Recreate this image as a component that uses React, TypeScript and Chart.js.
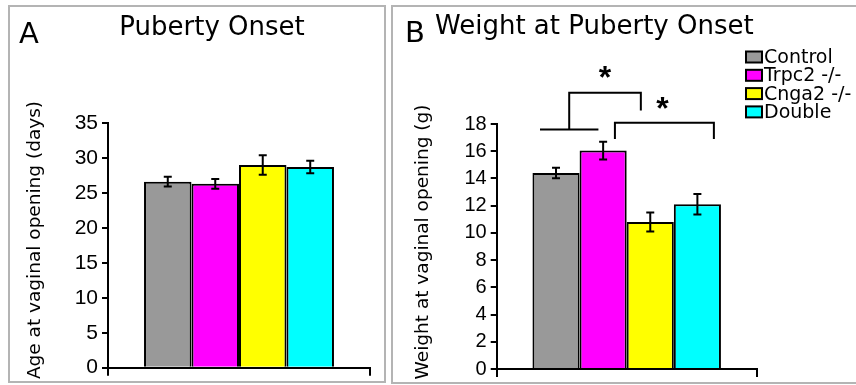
import React, { useEffect, useRef } from 'react';
import { Chart, registerables } from 'chart.js';

Chart.register(...registerables);

// ---- data ----
const groups = ['Control', 'Trpc2 -/-', 'Cnga2 -/-', 'Double'];
const groupColors = ['#999999', '#ff00ff', '#ffff00', '#00ffff'];

const ageMeans = [26.6, 26.3, 29.0, 28.7];
const ageErrors = [0.7, 0.7, 1.4, 0.9];
const ageTickStep = 5;
const ageMax = 35;

const weightMeans = [14.4, 16.05, 10.8, 12.1];
const weightErrors = [0.38, 0.65, 0.7, 0.75];
const weightTickStep = 2;
const weightMax = 18;

// significance brackets for panel B (y values in grams)
const bracketLowY = [17.6, 18.1];
const bracketTopY = [20.3, 18.1];
const bracketDropY = [19.0, 16.9];
const starY = [21.8, 19.55];

const TXT = '#000000';
const SANS_WIDE = '"DejaVu Sans", sans-serif';
const SANS = '"Liberation Sans", Arial, sans-serif';

function errorBarPlugin(errors: number[]) {
  return {
    id: 'errorBars',
    afterDatasetsDraw(chart: any) {
      const { ctx } = chart;
      const y = chart.scales.y;
      ctx.save();
      ctx.strokeStyle = '#000';
      ctx.lineWidth = 2;
      chart.data.datasets.forEach((ds: any, i: number) => {
        const bar = chart.getDatasetMeta(i).data[0];
        const v = ds.data[0];
        const top = y.getPixelForValue(v + errors[i]);
        const bot = y.getPixelForValue(v - errors[i]);
        ctx.beginPath();
        ctx.moveTo(bar.x, top);
        ctx.lineTo(bar.x, bot);
        ctx.moveTo(bar.x - 4, top);
        ctx.lineTo(bar.x + 4, top);
        ctx.moveTo(bar.x - 4, bot);
        ctx.lineTo(bar.x + 4, bot);
        ctx.stroke();
      });
      ctx.restore();
    },
  };
}

function drawStar(ctx: CanvasRenderingContext2D, x: number, cy: number) {
  ctx.font = `bold 32px ${SANS}`;
  ctx.textAlign = 'center';
  ctx.textBaseline = 'alphabetic';
  const m = ctx.measureText('*');
  const base = cy + (m.actualBoundingBoxAscent - m.actualBoundingBoxDescent) / 2;
  ctx.fillText('*', x, base);
}

function drawYTitle(ctx: CanvasRenderingContext2D, text: string, cx: number, cy: number) {
  ctx.save();
  ctx.translate(cx, cy);
  ctx.rotate(-Math.PI / 2);
  ctx.font = `18.5px ${SANS_WIDE}`;
  ctx.fillStyle = TXT;
  ctx.textAlign = 'center';
  ctx.textBaseline = 'middle';
  ctx.fillText(text, 0, 0);
  ctx.restore();
}

function panelAPlugin() {
  return {
    id: 'panelA',
    afterDraw(chart: any) {
      const { ctx } = chart;
      ctx.save();
      ctx.fillStyle = TXT;
      ctx.textBaseline = 'alphabetic';
      ctx.textAlign = 'left';
      ctx.font = `29px ${SANS_WIDE}`;
      ctx.fillText('A', 19, 43);
      ctx.textAlign = 'center';
      ctx.font = `26px ${SANS_WIDE}`;
      ctx.fillText('Puberty Onset', 212, 35);
      drawYTitle(ctx, 'Age at vaginal opening (days)', 35, 240);
      ctx.restore();
    },
  };
}

function panelBPlugin() {
  return {
    id: 'panelB',
    afterDraw(chart: any) {
      const { ctx } = chart;
      const y = chart.scales.y;
      const bars = [0, 1, 2, 3].map((i) => chart.getDatasetMeta(i).data[0]);
      const w = bars[0].width;
      ctx.save();
      ctx.fillStyle = TXT;
      ctx.textBaseline = 'alphabetic';
      ctx.textAlign = 'left';
      ctx.font = `29px ${SANS_WIDE}`;
      ctx.fillText('B', 15, 42);
      ctx.font = `26px ${SANS_WIDE}`;
      ctx.fillText('Weight at Puberty Onset', 45, 34);
      drawYTitle(ctx, 'Weight at vaginal opening (g)', 33, 242);

      // legend
      ctx.font = `19px ${SANS_WIDE}`;
      ctx.textBaseline = 'middle';
      ctx.textAlign = 'left';
      groups.forEach((g, i) => {
        const cy = 57 + i * 18.3;
        ctx.fillStyle = groupColors[i];
        ctx.fillRect(356, cy - 5.5, 16, 11);
        ctx.strokeStyle = '#000';
        ctx.lineWidth = 2;
        ctx.strokeRect(356, cy - 5.5, 16, 11);
        ctx.fillStyle = TXT;
        ctx.fillText(g, 374, cy + 1);
      });

      // brackets
      ctx.strokeStyle = '#000';
      ctx.lineWidth = 2;
      // bracket 1: Control+Trpc2 vs Cnga2
      const l0 = bars[0].x - 0.34 * w;
      const l1 = bars[1].x - 0.1 * w;
      const mid = (l0 + l1) / 2;
      const r1 = bars[2].x - 0.2 * w;
      ctx.beginPath();
      ctx.moveTo(l0, y.getPixelForValue(bracketLowY[0]));
      ctx.lineTo(l1, y.getPixelForValue(bracketLowY[0]));
      ctx.moveTo(mid, y.getPixelForValue(bracketLowY[0]));
      ctx.lineTo(mid, y.getPixelForValue(bracketTopY[0]));
      ctx.lineTo(r1, y.getPixelForValue(bracketTopY[0]));
      ctx.lineTo(r1, y.getPixelForValue(bracketDropY[0]));
      ctx.stroke();
      // bracket 2: Trpc2 vs Double
      const a = bars[1].x + 0.25 * w;
      const b = bars[3].x + 0.35 * w;
      ctx.beginPath();
      ctx.moveTo(a, y.getPixelForValue(bracketDropY[1]));
      ctx.lineTo(a, y.getPixelForValue(bracketTopY[1]));
      ctx.lineTo(b, y.getPixelForValue(bracketTopY[1]));
      ctx.lineTo(b, y.getPixelForValue(bracketDropY[1]));
      ctx.stroke();

      ctx.fillStyle = TXT;
      drawStar(ctx, (mid + r1) / 2, y.getPixelForValue(starY[0]));
      drawStar(ctx, (a + b) / 2 - 2, y.getPixelForValue(starY[1]));
      ctx.restore();
    },
  };
}

function makeConfig(
  means: number[],
  errors: number[],
  max: number,
  step: number,
  padding: any,
  yWidth: number,
  tickSize: number,
  extra: any
) {
  return {
    type: 'bar',
    data: {
      labels: [''],
      datasets: groups.map((g, i) => ({
        label: g,
        data: [means[i]],
        backgroundColor: groupColors[i],
        borderColor: '#000',
        borderWidth: 2,
        borderSkipped: 'start',
        categoryPercentage: 0.725,
        barPercentage: 1,
      })),
    },
    options: {
      animation: false,
      responsive: false,
      maintainAspectRatio: false,
      devicePixelRatio: 1,
      layout: { padding },
      plugins: {
        legend: { display: false },
        title: { display: false },
        tooltip: { enabled: false },
      },
      scales: {
        x: {
          type: 'category',
          grid: {
            offset: true,
            drawOnChartArea: false,
            tickLength: 8,
            color: '#000',
            lineWidth: 2,
          },
          border: { color: '#000', width: 2 },
          ticks: { display: false },
          afterFit: (s: any) => {
            s.height = 8;
          },
        },
        y: {
          min: 0,
          max,
          ticks: {
            stepSize: step,
            color: TXT,
            padding: 4,
            font: { family: SANS, size: tickSize },
          },
          grid: {
            drawOnChartArea: false,
            tickLength: 6,
            color: '#000',
            lineWidth: 2,
          },
          border: { color: '#000', width: 2 },
          title: { display: false },
          afterFit: (s: any) => {
            s.width = yWidth;
          },
        },
      },
    },
    plugins: [errorBarPlugin(errors), extra],
  } as any;
}

export default function App() {
  const refA = useRef<HTMLCanvasElement>(null);
  const refB = useRef<HTMLCanvasElement>(null);

  useEffect(() => {
    const chartA = new Chart(
      refA.current!,
      makeConfig(
        ageMeans,
        ageErrors,
        ageMax,
        ageTickStep,
        { left: 20, right: 20, top: 123, bottom: 9.3 },
        88,
        21,
        panelAPlugin()
      )
    );
    const chartB = new Chart(
      refB.current!,
      makeConfig(
        weightMeans,
        weightErrors,
        weightMax,
        weightTickStep,
        { left: 18, right: 99.3, top: 124, bottom: 6 },
        88.7,
        20,
        panelBPlugin()
      )
    );
    return () => {
      chartA.destroy();
      chartB.destroy();
    };
  }, []);

  return (
    <div
      style={{
        position: 'absolute',
        left: 0,
        top: 0,
        width: 856,
        height: 385,
        overflow: 'hidden',
        background: '#fff',
      }}
    >
      <div
        style={{
          position: 'absolute',
          left: 8,
          top: 5,
          width: 378,
          height: 378,
          boxSizing: 'border-box',
          border: '2px solid #b4b4b4',
        }}
      />
      <div
        style={{
          position: 'absolute',
          left: 391,
          top: 5,
          width: 480,
          height: 379,
          boxSizing: 'border-box',
          border: '2px solid #b4b4b4',
        }}
      />
      <canvas
        ref={refA}
        width={390}
        height={385}
        style={{ position: 'absolute', left: 0, top: 0, width: 390, height: 385 }}
      />
      <canvas
        ref={refB}
        width={466}
        height={385}
        style={{ position: 'absolute', left: 390, top: 0, width: 466, height: 385 }}
      />
    </div>
  );
}
